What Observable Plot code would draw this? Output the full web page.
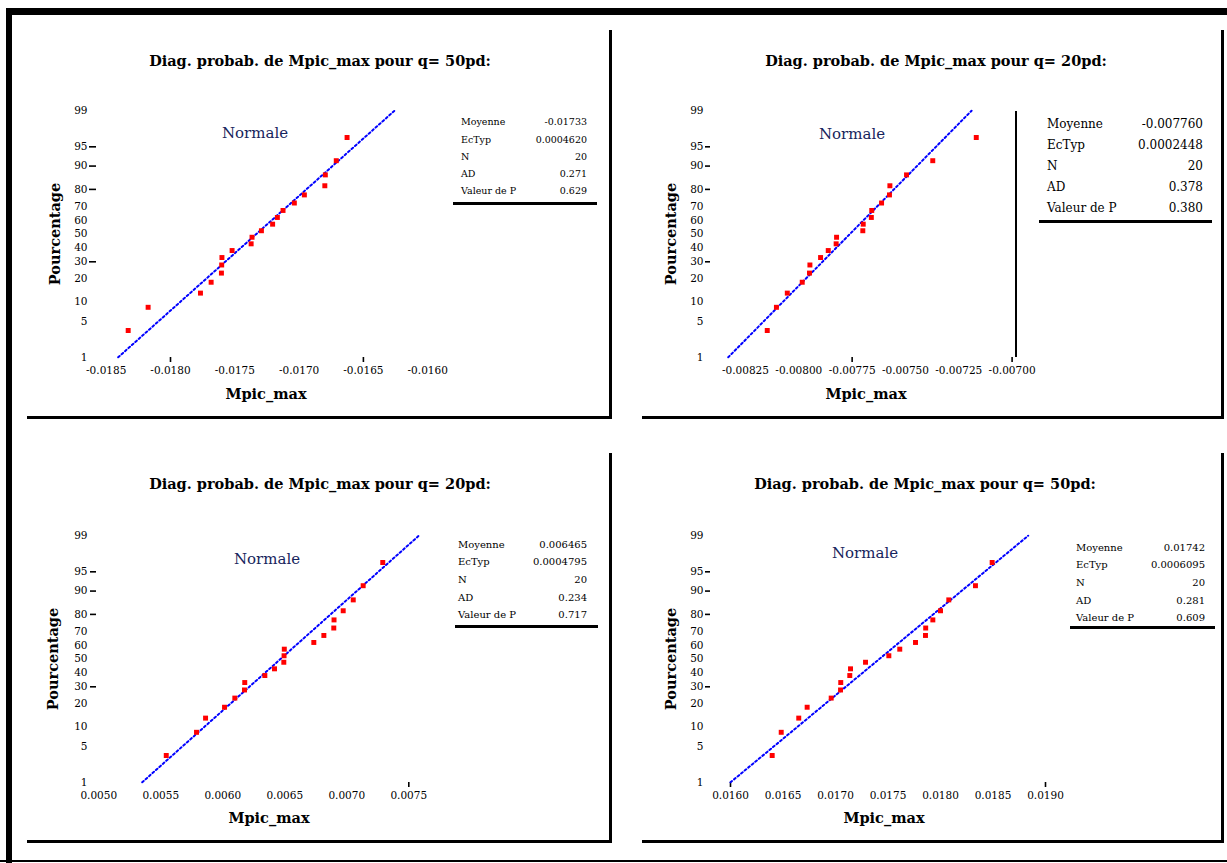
<!DOCTYPE html>
<html>
<head>
<meta charset="utf-8">
<script src="https://cdn.jsdelivr.net/npm/d3@7"></script>
<script src="https://cdn.jsdelivr.net/npm/@observablehq/plot@0.6"></script>
<style>
  body { margin: 0; background: #fff; }
  #page { position: relative; width: 1227px; height: 863px; overflow: hidden; font-family: "DejaVu Serif", serif; color: #000; background: #fff; }
  .abs { position: absolute; }
  .ctr { position: absolute; white-space: nowrap; transform: translate(-50%, -50%); }
  .title { font-weight: bold; font-size: 14.5px; }
  .dist { font-size: 15px; color: #16245c; }
  .axt { font-weight: bold; font-size: 14.5px; }
  .rot { transform: translate(-50%, -50%) rotate(-90deg); }
  .bar { position: absolute; background: #000; }
  .cell { position: absolute; white-space: nowrap; transform: translateY(-50%); }
  .plotbox { position: absolute; }
  .plotbox svg { display: block; }
</style>
</head>
<body>
<div id="page"></div>
<script>
// ---------- data ----------
const pctTicks = [1, 5, 10, 20, 30, 40, 50, 60, 70, 80, 90, 95, 99];
const pctTickLabels = ["1", "5", "10", "20", "30", "40", "50", "60", "70", "80", "90", "95", "99"];
const pctMarked = [30, 80, 90, 95];

const titles = [
  "Diag. probab. de Mpic_max pour q= 50pd:",
  "Diag. probab. de Mpic_max pour q= 20pd:",
  "Diag. probab. de Mpic_max pour q= 20pd:",
  "Diag. probab. de Mpic_max pour q= 50pd:"
];
const distName = "Normale";
const xTitle = "Mpic_max";
const yTitle = "Pourcentage";
const statLabels = ["Moyenne", "EcTyp", "N", "AD", "Valeur de P"];

// panel 1 (top left)
const p1Values = [-0.018329, -0.018174, -0.017767, -0.017684, -0.017604, -0.017602, -0.017600, -0.017521, -0.017373, -0.017366,
                  -0.017293, -0.017206, -0.017169, -0.017125, -0.017037, -0.016959, -0.016800, -0.016796, -0.016711, -0.016627];
const p1FitLine = [-0.018407, -0.016258];
const p1XTicks = [-0.0185, -0.0180, -0.0175, -0.0170, -0.0165, -0.0160];
const p1XTickLabels = ["-0.0185", "-0.0180", "-0.0175", "-0.0170", "-0.0165", "-0.0160"];
const p1XMarked = [-0.0180, -0.0165];
const p1Stats = ["-0.01733", "0.0004620", "20", "0.271", "0.629"];

// panel 2 (top right)
const p2Values = [-0.008148, -0.008105, -0.008054, -0.007984, -0.007950, -0.007948, -0.007898, -0.007862, -0.007825, -0.007823,
                  -0.007700, -0.007698, -0.007660, -0.007658, -0.007612, -0.007575, -0.007573, -0.007495, -0.007372, -0.007168];
const p2FitLine = [-0.008331, -0.007190];
const p2XTicks = [-0.00825, -0.00800, -0.00775, -0.00750, -0.00725, -0.00700];
const p2XTickLabels = ["-0.00825", "-0.00800", "-0.00775", "-0.00750", "-0.00725", "-0.00700"];
const p2XMarked = [-0.00775, -0.00700];
const p2Stats = ["-0.007760", "0.0002448", "20", "0.378", "0.380"];

// panel 3 (bottom left)
const p3Values = [0.005544, 0.005788, 0.005861, 0.006014, 0.006097, 0.006175, 0.006177, 0.006339, 0.006417, 0.006492,
                  0.006494, 0.006496, 0.006734, 0.006815, 0.006895, 0.006897, 0.006971, 0.007052, 0.007132, 0.007290];
const p3FitLine = [0.005350, 0.007581];
const p3XTicks = [0.0050, 0.0055, 0.0060, 0.0065, 0.0070, 0.0075];
const p3XTickLabels = ["0.0050", "0.0055", "0.0060", "0.0065", "0.0070", "0.0075"];
const p3XMarked = [0.0075];
const p3Stats = ["0.006465", "0.0004795", "20", "0.234", "0.717"];

// panel 4 (bottom right)
const p4Values = [0.016397, 0.016483, 0.016650, 0.016730, 0.016959, 0.017048, 0.017050, 0.017136, 0.017143, 0.017286,
                  0.017508, 0.017612, 0.017762, 0.017857, 0.017859, 0.017927, 0.018000, 0.018079, 0.018333, 0.018492];
const p4FitLine = [0.016000, 0.018835];
const p4XTicks = [0.0160, 0.0165, 0.0170, 0.0175, 0.0180, 0.0185, 0.0190];
const p4XTickLabels = ["0.0160", "0.0165", "0.0170", "0.0175", "0.0180", "0.0185", "0.0190"];
const p4XMarked = [0.0160, 0.0190];
const p4Stats = ["0.01742", "0.0006095", "20", "0.281", "0.609"];

const fitPct = [1, 99];

// ---------- helpers ----------
function probit(p) {
  const a = [-3.969683028665376e+01, 2.209460984245205e+02, -2.759285104469687e+02, 1.383577518672690e+02, -3.066479806614716e+01, 2.506628277459239e+00];
  const b = [-5.447609879822406e+01, 1.615858368580409e+02, -1.556989798598866e+02, 6.680131188771972e+01, -1.328068155288572e+01];
  const c = [-7.784894002430293e-03, -3.223964580411365e-01, -2.400758277161838e+00, -2.549671010196926e+00, 4.374664141464968e+00, 2.938163982698783e+00];
  const d = [7.784695709041462e-03, 3.224671290700398e-01, 2.445134137142996e+00, 3.754408661907416e+00];
  const pl = 0.02425, ph = 1 - pl;
  let q, r;
  if (p < pl) { q = Math.sqrt(-2 * Math.log(p)); return (((((c[0]*q+c[1])*q+c[2])*q+c[3])*q+c[4])*q+c[5]) / ((((d[0]*q+d[1])*q+d[2])*q+d[3])*q+1); }
  if (p <= ph) { q = p - 0.5; r = q*q; return (((((a[0]*r+a[1])*r+a[2])*r+a[3])*r+a[4])*r+a[5])*q / (((((b[0]*r+b[1])*r+b[2])*r+b[3])*r+b[4])*r+1); }
  q = Math.sqrt(-2 * Math.log(1 - p)); return -(((((c[0]*q+c[1])*q+c[2])*q+c[3])*q+c[4])*q+c[5]) / ((((d[0]*q+d[1])*q+d[2])*q+d[3])*q+1);
}

const zTicks = pctTicks.map(p => probit(p / 100));
const zLabel = new Map(zTicks.map((z, i) => [z, pctTickLabels[i]]));
const zMarked = pctMarked.map(p => zTicks[pctTicks.indexOf(p)]);

const page = document.getElementById("page");
function el(cls, css, text) {
  const e = document.createElement("div");
  e.className = cls;
  Object.assign(e.style, css);
  if (text != null) e.textContent = text;
  page.appendChild(e);
  return e;
}

function panel(cfg) {
  const n = cfg.values.length;
  // median-rank plotting positions of the sorted sample
  const rows = cfg.values.map((v, i) => ({v, z: probit((i + 1 - 0.3) / (n + 0.4))}));
  const fit = cfg.fit.map((v, i) => ({v, z: probit(fitPct[i] / 100)}));
  const xLab = new Map(cfg.xTicks.map((t, i) => [t, cfg.xTickLabels[i]]));
  const pxPerZ = 53;
  const yc = cfg.yCenter - cfg.oy;
  const chart = Plot.plot({
    width: cfg.w,
    height: cfg.h,
    marginLeft: cfg.axisX - cfg.ox,
    marginBottom: cfg.h - (cfg.axisY - cfg.oy),
    marginTop: 0,
    marginRight: 0,
    style: {fontFamily: "DejaVu Serif", fontSize: "10.5px", color: "#000", background: "transparent", overflow: "visible"},
    x: {domain: [cfg.xTicks[0], cfg.xTicks[cfg.xTicks.length - 1]], range: [cfg.x0 - cfg.ox, cfg.x1 - cfg.ox], label: null},
    y: {domain: [-3, 3], range: [yc + 3 * pxPerZ, yc - 3 * pxPerZ], label: null},
    marks: [
      Plot.axisY(zTicks, {tickSize: 0, tickPadding: cfg.yPad, tickFormat: d => zLabel.get(d), label: null}),
      Plot.axisY(zMarked, {tickSize: cfg.yTick, tickFormat: () => "", label: null, strokeWidth: 1.6}),
      Plot.axisX(cfg.xTicks, {tickSize: 0, tickPadding: 9, tickFormat: d => xLab.get(d), label: null}),
      Plot.axisX(cfg.xMarked, {tickSize: 5, tickFormat: () => "", label: null, strokeWidth: 1.6}),
      Plot.line(fit, {x: "v", y: "z", stroke: "#0000ff", strokeWidth: 2, strokeDasharray: "2,2.6"}),
      Plot.dot(rows, {x: "v", y: "z", symbol: "square", r: 2.8, fill: "#ff0000", stroke: "none"})
    ]
  });
  const box = el("plotbox", {left: cfg.ox + "px", top: cfg.oy + "px", width: cfg.w + "px", height: cfg.h + "px"});
  box.appendChild(chart);

  // texts
  el("ctr title", {left: cfg.title[0] + "px", top: cfg.title[1] + "px"}, titles[cfg.idx]);
  el("ctr dist", {left: cfg.dist[0] + "px", top: cfg.dist[1] + "px"}, distName);
  el("ctr axt", {left: cfg.xt[0] + "px", top: cfg.xt[1] + "px"}, xTitle);
  el("ctr axt rot", {left: cfg.yt[0] + "px", top: cfg.yt[1] + "px"}, yTitle);

  // statistics table
  const t = cfg.table;
  statLabels.forEach((lab, i) => {
    el("cell", {left: t.left + "px", top: t.rows[i] + "px", fontSize: t.fs + "px"}, lab);
    el("cell", {right: (1227 - t.right) + "px", top: t.rows[i] + "px", fontSize: t.fs + "px", textAlign: "right"}, cfg.stats[i]);
  });
  el("bar", {left: t.lineL + "px", top: t.lineT + "px", width: t.lineW + "px", height: "3px"});
}

panel({idx: 0, ox: 0, oy: 0, w: 612, h: 425, axisX: 96, axisY: 357, yCenter: 233.5, yPad: 9, yTick: 7,
  x0: 105.7, x1: 427.2, values: p1Values, fit: p1FitLine, xTicks: p1XTicks, xTickLabels: p1XTickLabels, xMarked: p1XMarked, stats: p1Stats,
  title: [320, 60], dist: [255, 133], xt: [266, 393], yt: [54, 234],
  table: {left: 461, right: 587, rows: [121, 139, 156, 173, 190], fs: 9.5, lineL: 453, lineT: 202, lineW: 144}});

panel({idx: 1, ox: 612, oy: 0, w: 615, h: 425, axisX: 710, axisY: 357, yCenter: 233.5, yPad: 7, yTick: 5,
  x0: 745, x1: 1011.6, values: p2Values, fit: p2FitLine, xTicks: p2XTicks, xTickLabels: p2XTickLabels, xMarked: p2XMarked, stats: p2Stats,
  title: [936, 60], dist: [852, 134], xt: [866, 393], yt: [670, 234],
  table: {left: 1047, right: 1203, rows: [124, 145, 166, 187, 208], fs: 12, lineL: 1039, lineT: 220, lineW: 173}});

panel({idx: 2, ox: 0, oy: 425, w: 612, h: 438, axisX: 96, axisY: 782, yCenter: 658.5, yPad: 9, yTick: 6,
  x0: 98.3, x1: 408.3, values: p3Values, fit: p3FitLine, xTicks: p3XTicks, xTickLabels: p3XTickLabels, xMarked: p3XMarked, stats: p3Stats,
  title: [320, 483], dist: [267, 559], xt: [269, 817], yt: [52, 659],
  table: {left: 458, right: 587, rows: [544, 561, 579, 597, 614], fs: 10, lineL: 455, lineT: 625, lineW: 143}});

panel({idx: 3, ox: 612, oy: 425, w: 615, h: 438, axisX: 710, axisY: 782, yCenter: 658.5, yPad: 7, yTick: 5,
  x0: 730, x1: 1045, values: p4Values, fit: p4FitLine, xTicks: p4XTicks, xTickLabels: p4XTickLabels, xMarked: p4XMarked, stats: p4Stats,
  title: [925, 483], dist: [865, 553], xt: [884, 817], yt: [670, 659],
  table: {left: 1076, right: 1205, rows: [547, 564, 582, 600, 617], fs: 10, lineL: 1070, lineT: 626, lineW: 145}});

// frames (decoration)
el("bar", {left: "6px", top: "8px", width: "1221px", height: "7px"});
el("bar", {left: "6px", top: "8px", width: "6px", height: "855px"});
el("bar", {left: "0px", top: "860px", width: "1227px", height: "2px"});
el("bar", {left: "609px", top: "30px", width: "3px", height: "389px"});
el("bar", {left: "27px", top: "416px", width: "585px", height: "3px"});
el("bar", {left: "1221px", top: "30px", width: "3px", height: "389px"});
el("bar", {left: "642px", top: "416px", width: "582px", height: "3px"});
el("bar", {left: "609px", top: "453px", width: "3px", height: "390px"});
el("bar", {left: "27px", top: "840px", width: "585px", height: "3px"});
el("bar", {left: "1221px", top: "453px", width: "3px", height: "390px"});
el("bar", {left: "642px", top: "840px", width: "582px", height: "3px"});
el("bar", {left: "1015px", top: "111px", width: "2px", height: "246px"});
</script>
</body>
</html>
